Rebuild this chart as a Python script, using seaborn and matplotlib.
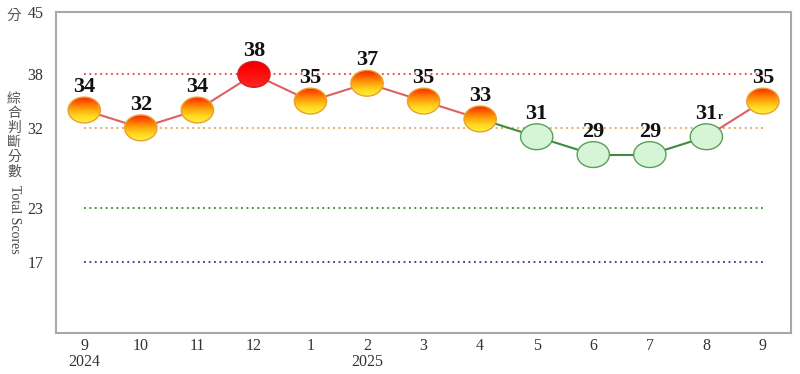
import numpy as np
import pandas as pd
import seaborn as sns
import matplotlib
matplotlib.use("Agg")
from matplotlib import pyplot as plt
from matplotlib.path import Path
from matplotlib.patches import Ellipse
from matplotlib.transforms import ScaledTranslation

months = ["9", "10", "11", "12", "1", "2", "3", "4", "5", "6", "7", "8", "9"]
year_at = {0: "2024", 5: "2025"}
scores = [34, 32, 34, 38, 35, 37, 35, 33, 31, 29, 29, 31, 35]
lights = ["yr", "yr", "yr", "red", "yr", "yr", "yr", "yr",
          "green", "green", "green", "green", "yr"]
revised = [False] * 11 + [True, False]
thresholds = [38, 32, 23, 17]
yticks = [45, 38, 32, 23, 17]

sns.set_style("white")
plt.rcParams["font.family"] = ["Liberation Serif", "DejaVu Sans"]

fig, ax = plt.subplots(figsize=(8, 3.74), dpi=100)
fig.subplots_adjust(left=0.07, right=0.989, bottom=0.11, top=0.968)

x = np.arange(len(scores))

# signal threshold lines
thr_colors = ["#d84848", "#e0a050", "#2e8b2e", "#3030a8"]
for t, c in zip(thresholds, thr_colors):
    ax.hlines(t, x[0], x[-1], colors=c, linestyles=(0, (1, 2)), linewidth=1.3, zorder=1)

# line segments, colored by the light of the later month
seg_rows = []
seg_pal = {}
for i in range(1, len(scores)):
    c = "#3f8a3f" if lights[i] == "green" else "#e06060"
    seg_pal[i] = c
    seg_rows.append({"x": x[i - 1], "y": scores[i - 1], "seg": i})
    seg_rows.append({"x": x[i], "y": scores[i], "seg": i})
segs = pd.DataFrame(seg_rows)
sns.lineplot(data=segs, x="x", y="y", hue="seg", palette=seg_pal, estimator=None,
             linewidth=1.5, legend=False, ax=ax, zorder=2)

# ellipse markers
t = np.linspace(0, 2 * np.pi, 60)
ell_path = Path(np.column_stack([np.cos(t), 0.8 * np.sin(t)]), closed=True)

df = pd.DataFrame({"x": x, "score": scores, "light": lights})
face = {"yr": (1, 1, 1, 0), "red": (1, 1, 1, 0), "green": (0.84, 0.96, 0.84, 1)}
edge = {"yr": "#e8a030", "red": "#d02020", "green": "#5a9e5a"}
sns.scatterplot(data=df, x="x", y="score", hue="light", palette=face, marker=ell_path,
                s=540, linewidth=1.0, ax=ax, zorder=5, legend=False)
ax.collections[-1].set_edgecolors([edge[l] for l in lights])

# gradient fill for the coloured lights
w_in, h_in = 0.322, 0.258
grad_yr = np.array([[1.0, 0.1, 0.0], [1.0, 0.4, 0.0], [1.0, 0.65, 0.05],
                    [1.0, 0.85, 0.12], [1.0, 0.95, 0.25]])
grad_red = np.array([[0.9, 0.0, 0.0], [1.0, 0.0, 0.0], [1.0, 0.05, 0.05],
                     [1.0, 0.1, 0.1], [1.0, 0.15, 0.15]])
for xi, v, l in zip(x, scores, lights):
    if l == "green":
        continue
    g = grad_yr if l == "yr" else grad_red
    rows = np.linspace(0, len(g) - 1, 50)
    img = np.stack([np.interp(rows, np.arange(len(g)), g[:, k]) for k in range(3)], axis=1)
    img = img[:, None, :].repeat(2, axis=1)
    el = Ellipse((0, 0), w_in, h_in,
                 transform=fig.dpi_scale_trans + ScaledTranslation(xi, v, ax.transData),
                 facecolor="none", edgecolor="none")
    ax.add_patch(el)
    im = ax.imshow(img, extent=(xi - 0.35, xi + 0.35, v - 1.5, v + 1.5),
                   origin="upper", aspect="auto", zorder=4, interpolation="bilinear")
    im.set_clip_path(el)

# value labels
for xi, v, r in zip(x, scores, revised):
    ax.annotate(str(v), (xi, v), xytext=(0, 13), textcoords="offset points",
                ha="center", va="baseline", fontsize=16, fontweight="bold",
                color="#111111", zorder=6)
    if r:
        ax.annotate("r", (xi, v), xytext=(8, 13), textcoords="offset points",
                    ha="left", va="baseline", fontsize=8, fontweight="bold",
                    color="#111111", zorder=6)

ax.set_xlim(-0.5, len(scores) - 0.5)
ax.set_ylim(9, 45)
ax.set_xticks(x)
ax.set_xticklabels([m + ("\n" + year_at[i] if i in year_at else "") for i, m in enumerate(months)],
                   linespacing=1.0, va="top")
ax.set_yticks(yticks)
ax.set_yticklabels([str(v) for v in yticks])
ax.tick_params(axis="both", length=0, labelsize=11.5, colors="#333333")
ax.tick_params(axis="y", pad=9)
ax.tick_params(axis="x", pad=4)
ax.set_xlabel("")
ax.set_ylabel("")
for s in ax.spines.values():
    s.set_color("#a8a8a8")
    s.set_linewidth(1.5)

cjk = ["Noto Sans CJK TC", "DejaVu Sans"]
fig.text(14 / 800, 1 - 16 / 374, "分", family=cjk, fontsize=10.5, color="#555555",
         ha="center", va="center")
fig.text(14 / 800, 1 - 135 / 374, "綜\n合\n判\n斷\n分\n數", family=cjk, fontsize=10,
         color="#555555", ha="center", va="center", linespacing=1.05)
fig.text(14 / 800, 1 - 219 / 374, "Total Scores", fontsize=10, color="#444444",
         ha="center", va="center", rotation=-90)

fig.savefig("out.png", dpi=100)
